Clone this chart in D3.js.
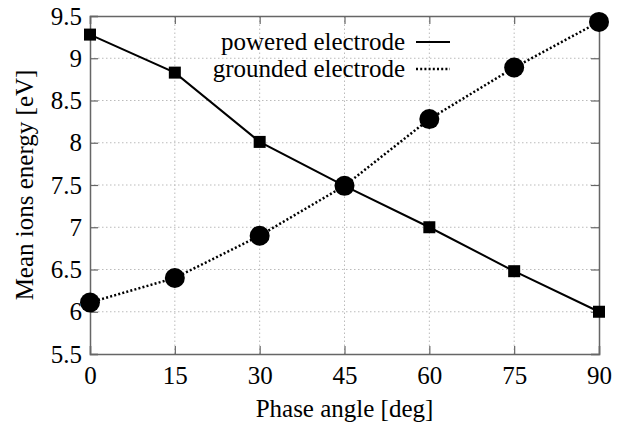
<!DOCTYPE html>
<html>
<head>
<meta charset="utf-8">
<script src="https://cdn.jsdelivr.net/npm/d3@7"></script>
<style>
  body { margin: 0; background: #fff; }
  svg text { font-family: "Liberation Serif", "Times New Roman", serif !important; fill: #000; }
</style>
</head>
<body>
<div id="chart"></div>
<script>
// data
var phase = [0, 15, 30, 45, 60, 75, 90]
var powered = [9.28, 8.83, 8.01, 7.49, 7.0, 6.48, 6.0]
var grounded = [6.11, 6.4, 6.9, 7.49, 8.28, 8.89, 9.43]
var xTicks = [0, 15, 30, 45, 60, 75, 90]
var yTicks = [5.5, 6, 6.5, 7, 7.5, 8, 8.5, 9, 9.5]

var width = 618
var height = 425
var margin = {left: 90, right: 19, top: 16, bottom: 71}
var fs = "25px"

var svg = d3.select("#chart")
  .append("svg")
    .attr("width", width)
    .attr("height", height)

var x = d3.scaleLinear().domain([0, 90]).range([margin.left, width - margin.right])
var y = d3.scaleLinear().domain([5.5, 9.5]).range([height - margin.bottom, margin.top])

// grid
svg.append("g").selectAll("line")
  .data(xTicks.slice(1, -1))
  .enter().append("line")
    .attr("x1", d => x(d)).attr("x2", d => x(d))
    .attr("y1", y(5.5)).attr("y2", y(9.5))
    .attr("stroke", "#bbb").attr("stroke-dasharray", "1.5,2.5")
svg.append("g").selectAll("line")
  .data(yTicks.slice(1, -1))
  .enter().append("line")
    .attr("x1", x(0)).attr("x2", x(90))
    .attr("y1", d => y(d)).attr("y2", d => y(d))
    .attr("stroke", "#bbb").attr("stroke-dasharray", "1.5,2.5")

// axes, ticks pointing inside
var axes = [
  svg.append("g").attr("transform", "translate(0," + y(5.5) + ")").call(d3.axisBottom(x).tickValues(xTicks).tickSize(-8).tickPadding(12)),
  svg.append("g").attr("transform", "translate(0," + y(9.5) + ")").call(d3.axisTop(x).tickValues(xTicks).tickSize(-8).tickFormat("")),
  svg.append("g").attr("transform", "translate(" + x(0) + ",0)").call(d3.axisLeft(y).tickValues(yTicks).tickSize(-8).tickPadding(8).tickFormat(d3.format("~g"))),
  svg.append("g").attr("transform", "translate(" + x(90) + ",0)").call(d3.axisRight(y).tickValues(yTicks).tickSize(-8).tickFormat(""))
]
axes.forEach(function(a) {
  a.attr("font-family", null).attr("font-size", null)
  a.select(".domain").attr("stroke", "#666").attr("stroke-width", 1.5)
  a.selectAll(".tick line").attr("stroke", "#666").attr("stroke-width", 1.2)
  a.selectAll(".tick text").style("font-size", fs)
})

var line = d3.line()
  .x((d, i) => x(phase[i]))
  .y(d => y(d))

svg.append("path")
  .datum(powered)
  .attr("d", line)
  .attr("fill", "none").attr("stroke", "#000").attr("stroke-width", 2)

svg.append("path")
  .datum(grounded)
  .attr("d", line)
  .attr("fill", "none").attr("stroke", "#000").attr("stroke-width", 2.5)
  .attr("stroke-dasharray", "2,2.2")

svg.append("g").selectAll("rect")
  .data(powered)
  .enter().append("rect")
    .attr("x", (d, i) => x(phase[i]) - 6)
    .attr("y", d => y(d) - 6)
    .attr("width", 12).attr("height", 12)
    .attr("fill", "#000")

svg.append("g").selectAll("circle")
  .data(grounded)
  .enter().append("circle")
    .attr("cx", (d, i) => x(phase[i]))
    .attr("cy", d => y(d))
    .attr("r", 10)
    .attr("fill", "#000")

// legend
var legend = [
  {label: "powered electrode", dash: null},
  {label: "grounded electrode", dash: "2,2.2"}
]
var lg = svg.append("g").selectAll("g")
  .data(legend)
  .enter().append("g")
    .attr("transform", (d, i) => "translate(0," + (42 + i * 27) + ")")
lg.append("text")
  .attr("x", 405).attr("y", 8)
  .attr("text-anchor", "end")
  .style("font-size", fs)
  .text(d => d.label)
lg.append("line")
  .attr("x1", 416).attr("x2", 450).attr("y1", 0).attr("y2", 0)
  .attr("stroke", "#000").attr("stroke-width", d => d.dash ? 2.5 : 2)
  .attr("stroke-dasharray", d => d.dash)

// axis titles
svg.append("text")
  .attr("x", (x(0) + x(90)) / 2).attr("y", 417)
  .attr("text-anchor", "middle")
  .style("font-size", fs)
  .text("Phase angle [deg]")

svg.append("text")
  .attr("transform", "translate(33," + ((y(5.5) + y(9.5)) / 2) + ") rotate(-90)")
  .attr("text-anchor", "middle")
  .style("font-size", fs)
  .text("Mean ions energy [eV]")
</script>
</body>
</html>
